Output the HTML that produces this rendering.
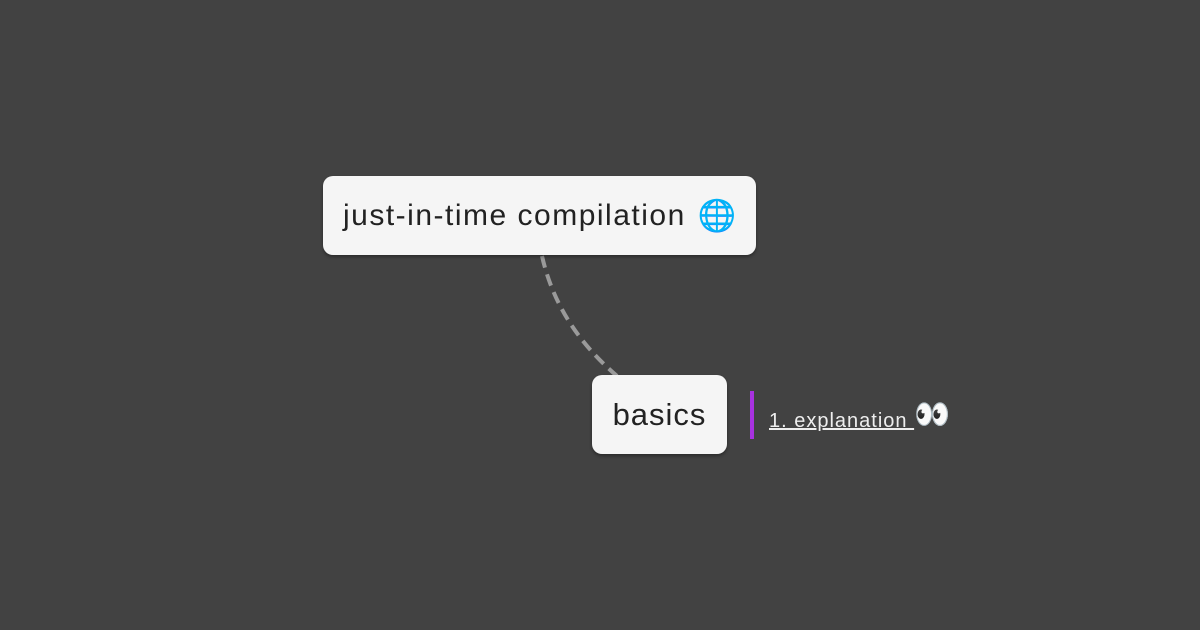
<!DOCTYPE html>
<html><head><meta charset="utf-8"><style>
html,body{margin:0;padding:0}
body{width:1200px;height:630px;background:#424242;position:relative;overflow:hidden;font-family:"Liberation Sans","Noto Sans CJK JP",sans-serif}
.node{position:absolute;background:#f5f5f5;border-radius:10px;box-shadow:0 2px 3px rgba(0,0,0,.35);color:#222;display:flex;align-items:center;justify-content:center;box-sizing:border-box}
svg{position:absolute;left:0;top:0}
</style></head><body>
<svg width="1200" height="630"><path d="M542 256 C552 300 575 340 617 376" fill="none" stroke="#9a9a9a" stroke-width="4" stroke-dasharray="12 7"/></svg>
<div class="node" style="left:323px;top:176px;width:433px;height:79px;font-size:30px;letter-spacing:1.5px;justify-content:flex-start;padding-left:20px;white-space:nowrap">just-in-time compilation<span style="font-size:31px;margin-left:12px;letter-spacing:0">🌐</span></div>
<div class="node" style="left:592px;top:375px;width:135px;height:79px;font-size:31px;letter-spacing:1px">basics</div>
<div style="position:absolute;left:750px;top:391px;width:4px;height:48px;background:#a832e0"></div>
<div style="position:absolute;left:769px;top:401px;font-size:20px;letter-spacing:1px;color:#eeeeee;white-space:nowrap"><span style="text-decoration:underline">1. explanation </span><span style="font-size:29px;position:relative;top:-3px;letter-spacing:0">👀</span></div>
</body></html>
